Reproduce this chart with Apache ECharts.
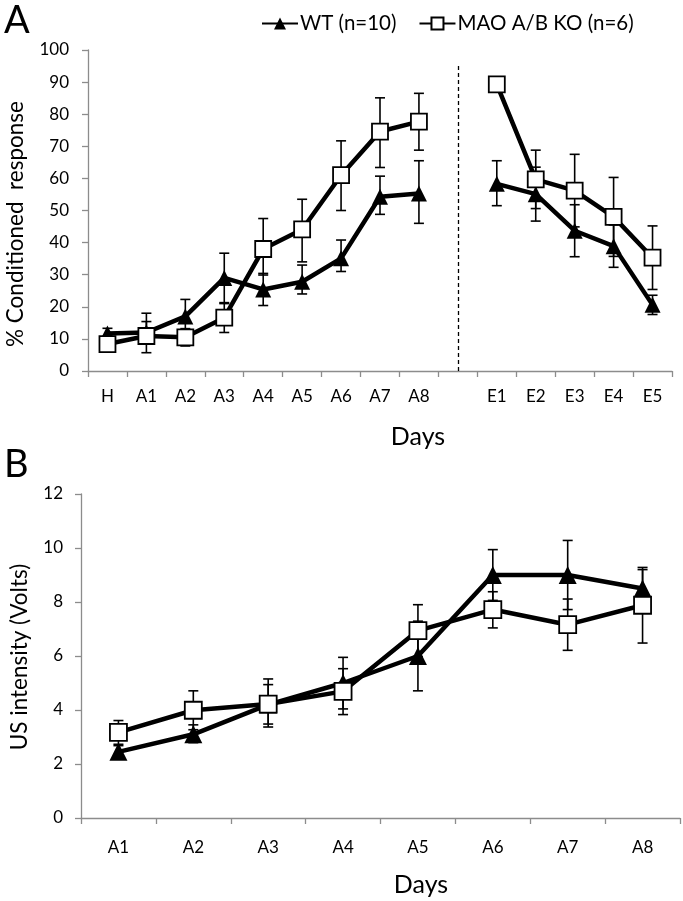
<!DOCTYPE html>
<html>
<head>
<meta charset="utf-8">
<script src="https://cdn.jsdelivr.net/npm/echarts@6/dist/echarts.min.js"></script>
<style>
html,body{margin:0;padding:0;background:#fff;}
#chart{width:683px;height:901px;}
</style>
</head>
<body>
<div id="chart"></div>
<script>
// ---- Panel A data ----
const catsA = ['H','A1','A2','A3','A4','A5','A6','A7','A8','','E1','E2','E3','E4','E5'];
const wtA     = [11.7, 12.0, 17.0, 29.0, 25.4, 27.8, 35.1, 54.3, 55.3, null, 58.3, 55.1, 43.7, 38.9, 20.6];
const wtALow  = [10.1,  9.0, 11.7, 21.3, 20.4, 24.0, 31.0, 48.8, 46.0, null, 51.5, 46.7, 35.6, 32.3, 17.6];
const wtAHigh = [13.3, 15.4, 22.3, 36.7, 30.4, 33.0, 40.8, 60.7, 65.5, null, 65.5, 63.5, 51.8, 45.5, 23.6];
const koA     = [ 8.4, 10.9, 10.5, 16.6, 38.0, 44.1, 61.0, 74.6, 77.7, null, 89.3, 59.7, 56.2, 48.0, 35.3];
const koALow  = [ 6.6,  5.7,  7.8, 12.0, 29.9, 34.0, 50.0, 63.4, 68.8, null, 88.6, 50.6, 44.9, 35.7, 25.4];
const koAHigh = [10.2, 18.0, 13.2, 21.0, 47.5, 53.5, 71.7, 85.1, 86.5, null, 90.0, 68.8, 67.5, 60.3, 45.2];
const ticksA = {min: 0, max: 100, interval: 10};

// ---- Panel B data ----
const catsB = ['A1','A2','A3','A4','A5','A6','A7','A8'];
const wtB     = [2.45, 3.10, 4.20, 5.00, 6.00, 9.00, 9.00, 8.50];
const wtBLow  = [2.22, 2.79, 3.37, 4.04, 4.71, 8.06, 7.72, 7.80];
const wtBHigh = [2.68, 3.45, 5.15, 5.95, 7.29, 9.94, 10.28, 9.20];
const koB     = [3.17, 3.99, 4.22, 4.69, 6.94, 7.72, 7.16, 7.88];
const koBLow  = [2.73, 3.27, 3.48, 3.83, 5.98, 7.04, 6.21, 6.48];
const koBHigh = [3.61, 4.71, 4.94, 5.53, 7.90, 8.38, 8.11, 9.28];
const ticksB = {min: 0, max: 12, interval: 2};

const seriesNames = ['WT (n=10)', 'MAO A/B KO (n=6)'];
const dividerIndex = 9;   // blank category separating acquisition and extinction
const dividerTop = 95;

const FONT = 'Lato, "Open Sans", sans-serif';
const AXIS_GRAY = '#8c8c8c';

function errData(low, high) {
  const out = [];
  low.forEach((l, i) => { if (l != null) out.push([i, l, high[i]]); });
  return out;
}
function errSeries(xi, low, high, capW) {
  return {
    type: 'custom', xAxisIndex: xi, yAxisIndex: xi, z: 1, silent: true,
    data: errData(low, high),
    encode: {x: 0, y: [1, 2]},
    renderItem: function (params, api) {
      const x = api.value(0);
      const lo = api.coord([x, api.value(1)]);
      const hi = api.coord([x, api.value(2)]);
      const w = capW / 2;
      const st = {stroke: '#000', lineWidth: 1.6};
      return {type: 'group', children: [
        {type: 'line', shape: {x1: lo[0], y1: lo[1], x2: hi[0], y2: hi[1]}, style: st},
        {type: 'line', shape: {x1: lo[0] - w, y1: lo[1], x2: lo[0] + w, y2: lo[1]}, style: st},
        {type: 'line', shape: {x1: hi[0] - w, y1: hi[1], x2: hi[0] + w, y2: hi[1]}, style: st}
      ]};
    }
  };
}
function wtSeries(xi, data, size) {
  return {
    name: seriesNames[0], type: 'line', xAxisIndex: xi, yAxisIndex: xi, z: 3,
    data: data, connectNulls: false, symbol: 'triangle', symbolSize: size,
    lineStyle: {color: '#000', width: 4.5},
    itemStyle: {color: '#000', borderColor: '#000', borderWidth: 0},
    emphasis: {disabled: true}
  };
}
function koSeries(xi, data, size) {
  return {
    name: seriesNames[1], type: 'line', xAxisIndex: xi, yAxisIndex: xi, z: 4,
    data: data, connectNulls: false, symbol: 'rect', symbolSize: size,
    lineStyle: {color: '#000', width: 4.5},
    itemStyle: {color: '#fff', borderColor: '#000', borderWidth: 1.8},
    emphasis: {disabled: true}
  };
}
function catAxis(gi, cats, margin) {
  return {
    type: 'category', gridIndex: gi, data: cats, boundaryGap: true,
    axisLine: {lineStyle: {color: AXIS_GRAY, width: 1.3}},
    axisTick: {show: true, length: 6, lineStyle: {color: AXIS_GRAY, width: 1.3}, interval: 0},
    axisLabel: {color: '#000', fontSize: 17, fontFamily: FONT, margin: margin, interval: 0},
    splitLine: {show: false}
  };
}
function valAxis(gi, t, margin) {
  return {
    type: 'value', gridIndex: gi, min: t.min, max: t.max, interval: t.interval,
    axisLine: {show: true, lineStyle: {color: AXIS_GRAY, width: 1.3}},
    axisTick: {show: true, length: 6, lineStyle: {color: AXIS_GRAY, width: 1.3}},
    axisLabel: {color: '#000', fontSize: 17, fontFamily: FONT, margin: margin},
    splitLine: {show: false}
  };
}

const chart = echarts.init(document.getElementById('chart'), null, {renderer: 'canvas'});
const wtASeries = wtSeries(0, wtA, 16);
wtASeries.markLine = {
  silent: true, symbol: ['none', 'none'], label: {show: false},
  lineStyle: {color: '#000', type: [4, 3], width: 1.3},
  data: [[{coord: [dividerIndex, 0]}, {coord: [dividerIndex, dividerTop]}]]
};

chart.setOption({
  animation: false,
  backgroundColor: '#fff',
  textStyle: {fontFamily: FONT},
  legend: {
    data: seriesNames, left: 256, top: 8, itemWidth: 36, itemHeight: 15, itemGap: 22,
    textStyle: {color: '#000', fontSize: 20.5, fontFamily: FONT, padding: [0, 0, 0, -3]},
    selectedMode: false
  },
  grid: [
    {left: 88, top: 50, width: 584, height: 321},
    {left: 81, top: 494, width: 599, height: 324}
  ],
  xAxis: [catAxis(0, catsA, 17), catAxis(1, catsB, 21)],
  yAxis: [valAxis(0, ticksA, 19), valAxis(1, ticksB, 18)],
  graphic: [
    {type: 'text', left: 4, top: 2, style: {text: 'A', fontSize: 38, fontFamily: FONT, fill: '#000'}},
    {type: 'text', left: 4, top: 446, style: {text: 'B', fontSize: 38, fontFamily: FONT, fill: '#000'}},
    {type: 'text', x: 16, y: 224, rotation: Math.PI / 2,
     style: {text: '% Conditioned  response', fontSize: 22.5, fontFamily: FONT, fill: '#000', align: 'center', verticalAlign: 'middle'}},
    {type: 'text', x: 20, y: 657, rotation: Math.PI / 2,
     style: {text: 'US intensity (Volts)', fontSize: 22.5, fontFamily: FONT, fill: '#000', align: 'center', verticalAlign: 'middle'}},
    {type: 'text', x: 418, y: 437,
     style: {text: 'Days', fontSize: 25, fontFamily: FONT, fill: '#000', align: 'center', verticalAlign: 'middle'}},
    {type: 'text', x: 421, y: 885,
     style: {text: 'Days', fontSize: 25, fontFamily: FONT, fill: '#000', align: 'center', verticalAlign: 'middle'}}
  ],
  series: [
    errSeries(0, wtALow, wtAHigh, 10),
    errSeries(0, koALow, koAHigh, 10),
    wtASeries,
    koSeries(0, koA, 16),
    errSeries(1, wtBLow, wtBHigh, 10),
    errSeries(1, koBLow, koBHigh, 10),
    wtSeries(1, wtB, 18),
    koSeries(1, koB, 17)
  ]
});
</script>
</body>
</html>
